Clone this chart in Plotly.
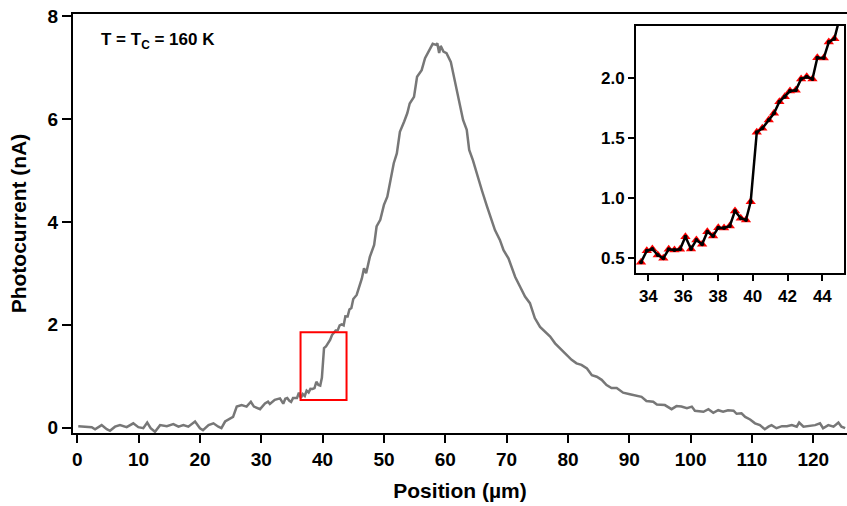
import plotly.graph_objects as go

# main scan (position in um, photocurrent in nA)
pos_left = [0.16, 0.98, 2.35, 2.9, 3.97, 4.8, 5.33, 6.15, 6.96, 8.05,
            9.13, 9.95, 10.76, 11.4, 11.96, 12.67, 13.5, 14.6, 15.66, 16.5,
            17.3, 18.1, 19.2, 20.0, 20.5, 21.4, 22.2, 23.0, 23.5, 24.1,
            24.6, 25.4, 26.0, 26.8, 27.6, 28.3, 28.8, 29.8, 30.6, 31.1,
            31.4, 32.2, 33.05]
cur_left = [0.03, 0.02, 0.01, -0.03, 0.05, -0.03, -0.06, 0.02, 0.05, 0.01,
            0.085, 0.01, -0.01, 0.10, -0.01, -0.08, 0.05, 0.03, 0.07, 0.02,
            0.05, 0.02, 0.12, -0.01, -0.05, 0.05, 0.085, 0.02, -0.01, 0.12,
            0.16, 0.21, 0.41, 0.44, 0.41, 0.505, 0.41, 0.36, 0.47, 0.505,
            0.46, 0.54, 0.57]

# zoomed region around the step (also part of the main scan)
inset_pos = [33.58, 33.91, 34.23, 34.54, 34.86, 35.17, 35.50, 35.82, 36.13, 36.45,
             36.76, 37.09, 37.39, 37.72, 38.02, 38.35, 38.68, 38.98, 39.31, 39.61,
             39.88, 40.23, 40.55, 40.92, 41.22, 41.53, 41.84, 42.14, 42.47, 42.78,
             43.10, 43.43, 43.71, 44.08, 44.37, 44.69, 45.0]
inset_cur = [0.467, 0.563, 0.577, 0.527, 0.50, 0.575, 0.569, 0.575, 0.679, 0.577,
             0.652, 0.616, 0.721, 0.685, 0.754, 0.752, 0.768, 0.893, 0.832, 0.818,
             0.970, 1.546, 1.58, 1.649, 1.704, 1.80, 1.842, 1.889, 1.895, 1.989,
             2.008, 1.989, 2.166, 2.163, 2.296, 2.324, 2.50]

pos_right = [45.55, 46.4, 46.75, 47.1, 47.7, 48.4, 48.8, 49.4, 50.0, 50.55,
             51.1, 51.6, 52.1, 52.6, 53.3, 53.8, 54.2, 54.9, 55.4, 56.15,
             56.7, 57.4, 57.95, 58.5, 58.7, 59.0, 59.25, 59.7, 60.2, 60.9,
             61.4, 61.9, 62.4, 62.9, 63.5, 63.9, 64.5, 65.2, 66.0, 66.8,
             67.5, 68.1, 68.9, 69.5, 70.3, 70.8, 71.4, 72.2, 73.0, 73.8,
             74.6, 75.45, 76.3, 77.1, 77.9, 78.7, 79.8, 80.6, 81.4, 82.2,
             83.1, 83.9, 84.7, 85.5, 86.3, 87.1, 87.95, 89.0, 90.1, 91.2,
             92.0, 92.8, 93.9, 94.5, 95.8, 96.9, 97.7, 98.5, 99.4, 100.2,
             100.7, 102.1, 102.9, 103.7, 104.5, 105.3, 106.1, 107.0, 107.5, 108.3,
             108.9, 109.7, 110.5, 111.3, 112.1, 112.7, 113.2, 114.0, 114.9, 115.7,
             116.5, 117.3, 117.7, 118.4, 119.5, 120.3, 121.1, 121.6, 122.45, 123.3,
             124.1, 124.6, 125.2]
cur_right = [2.58, 2.90, 3.10, 3.00, 3.32, 3.55, 3.91, 4.04, 4.33, 4.49,
             4.81, 5.14, 5.33, 5.75, 5.95, 6.11, 6.30, 6.43, 6.82, 6.95,
             7.18, 7.34, 7.46, 7.44, 7.47, 7.28, 7.42, 7.31, 7.28, 7.11,
             6.82, 6.60, 6.24, 5.98, 5.79, 5.40, 5.20, 4.90, 4.60, 4.30,
             4.05, 3.84, 3.65, 3.45, 3.29, 3.13, 2.93, 2.74, 2.55, 2.42,
             2.13, 1.96, 1.87, 1.77, 1.64, 1.54, 1.41, 1.32, 1.25, 1.22,
             1.15, 1.02, 0.99, 0.93, 0.83, 0.77, 0.77, 0.68, 0.65, 0.62,
             0.60, 0.52, 0.505, 0.45, 0.44, 0.36, 0.42, 0.41, 0.38, 0.41,
             0.33, 0.31, 0.36, 0.29, 0.34, 0.31, 0.34, 0.33, 0.27, 0.28,
             0.21, 0.16, 0.085, 0.05, -0.03, 0.02, 0.05, -0.01, 0.03, 0.03,
             0.05, 0.02, 0.10, 0.02, 0.03, 0.05, 0.085, -0.01, 0.05, 0.02,
             0.10, 0.02, -0.01]

x_ticks = list(range(0, 121, 10))
y_ticks = [0, 2, 4, 6, 8]
inset_x_ticks = [34, 36, 38, 40, 42, 44]
inset_y_ticks = [0.5, 1.0, 1.5, 2.0]

position = pos_left + inset_pos + pos_right
current = cur_left + inset_cur + cur_right

FONT = 'Liberation Sans, Arial, sans-serif'

fig = go.Figure()

fig.add_trace(go.Scatter(x=position, y=current, mode='lines',
                         line={'color': '#777777', 'width': 2.5},
                         xaxis='x', yaxis='y', showlegend=False))

# inset: red triangles with the black line on top
fig.add_trace(go.Scatter(x=inset_pos, y=inset_cur, mode='markers',
                         marker={'symbol': 'triangle-up', 'size': 9, 'color': 'red'},
                         xaxis='x2', yaxis='y2', showlegend=False))
fig.add_trace(go.Scatter(x=inset_pos, y=inset_cur, mode='lines+markers',
                         line={'color': 'black', 'width': 2.5},
                         marker={'size': 4, 'color': 'black'},
                         xaxis='x2', yaxis='y2', showlegend=False))

axis_style = dict(showline=True, linewidth=2, linecolor='black', showgrid=False,
                  zeroline=False, ticks='outside', tickwidth=2, tickcolor='black',
                  automargin=False)

fig.update_layout(
    width=847, height=506,
    margin={'l': 73, 'r': 0, 't': 14, 'b': 73},
    paper_bgcolor='white', plot_bgcolor='white',
    font={'family': FONT, 'color': 'black'},
    xaxis=dict(axis_style, domain=[0, 1], range=[-0.7, 125.5], mirror=True,
               tickvals=x_ticks, ticklen=8,
               tickfont={'size': 19, 'weight': 'bold'},
               title={'text': 'Position (µm)', 'standoff': 15,
                      'font': {'size': 21, 'weight': 'bold'}}),
    yaxis=dict(axis_style, domain=[0, 1], range=[-0.103, 8.04],
               tickvals=y_ticks, ticklen=9,
               tickfont={'size': 19, 'weight': 'bold'},
               title={'text': 'Photocurrent (nA)', 'standoff': 15,
                      'font': {'size': 21, 'weight': 'bold'}}),
    xaxis2=dict(axis_style, domain=[0.7274, 0.9965], range=[33.29, 45.26],
                anchor='y2', mirror=True, tickvals=inset_x_ticks, ticklen=6,
                tickfont={'size': 17, 'weight': 'bold'}),
    yaxis2=dict(axis_style, domain=[0.3811, 0.9721], range=[0.375, 2.432],
                anchor='x2', mirror=True, tickvals=inset_y_ticks, ticklen=6,
                tickformat='.1f', tickfont={'size': 17, 'weight': 'bold'}),
    shapes=[dict(type='rect', xref='x', yref='y', x0=36.4, x1=43.9, y0=0.538, y1=1.854,
                 line={'color': 'red', 'width': 2})],
    annotations=[dict(text='<b>T = T<sub>C</sub> = 160 K</b>', xref='paper', yref='paper',
                      x=0.034, y=0.935, xanchor='left', yanchor='middle', showarrow=False,
                      font={'size': 17, 'family': FONT})],
)

# drop the page's default body margin so the figure sits at the window corner
fig.write_html('out.html', config={'displayModeBar': False},
               post_script="document.body.style.margin='0';"
                           "document.body.style.overflow='hidden';")
